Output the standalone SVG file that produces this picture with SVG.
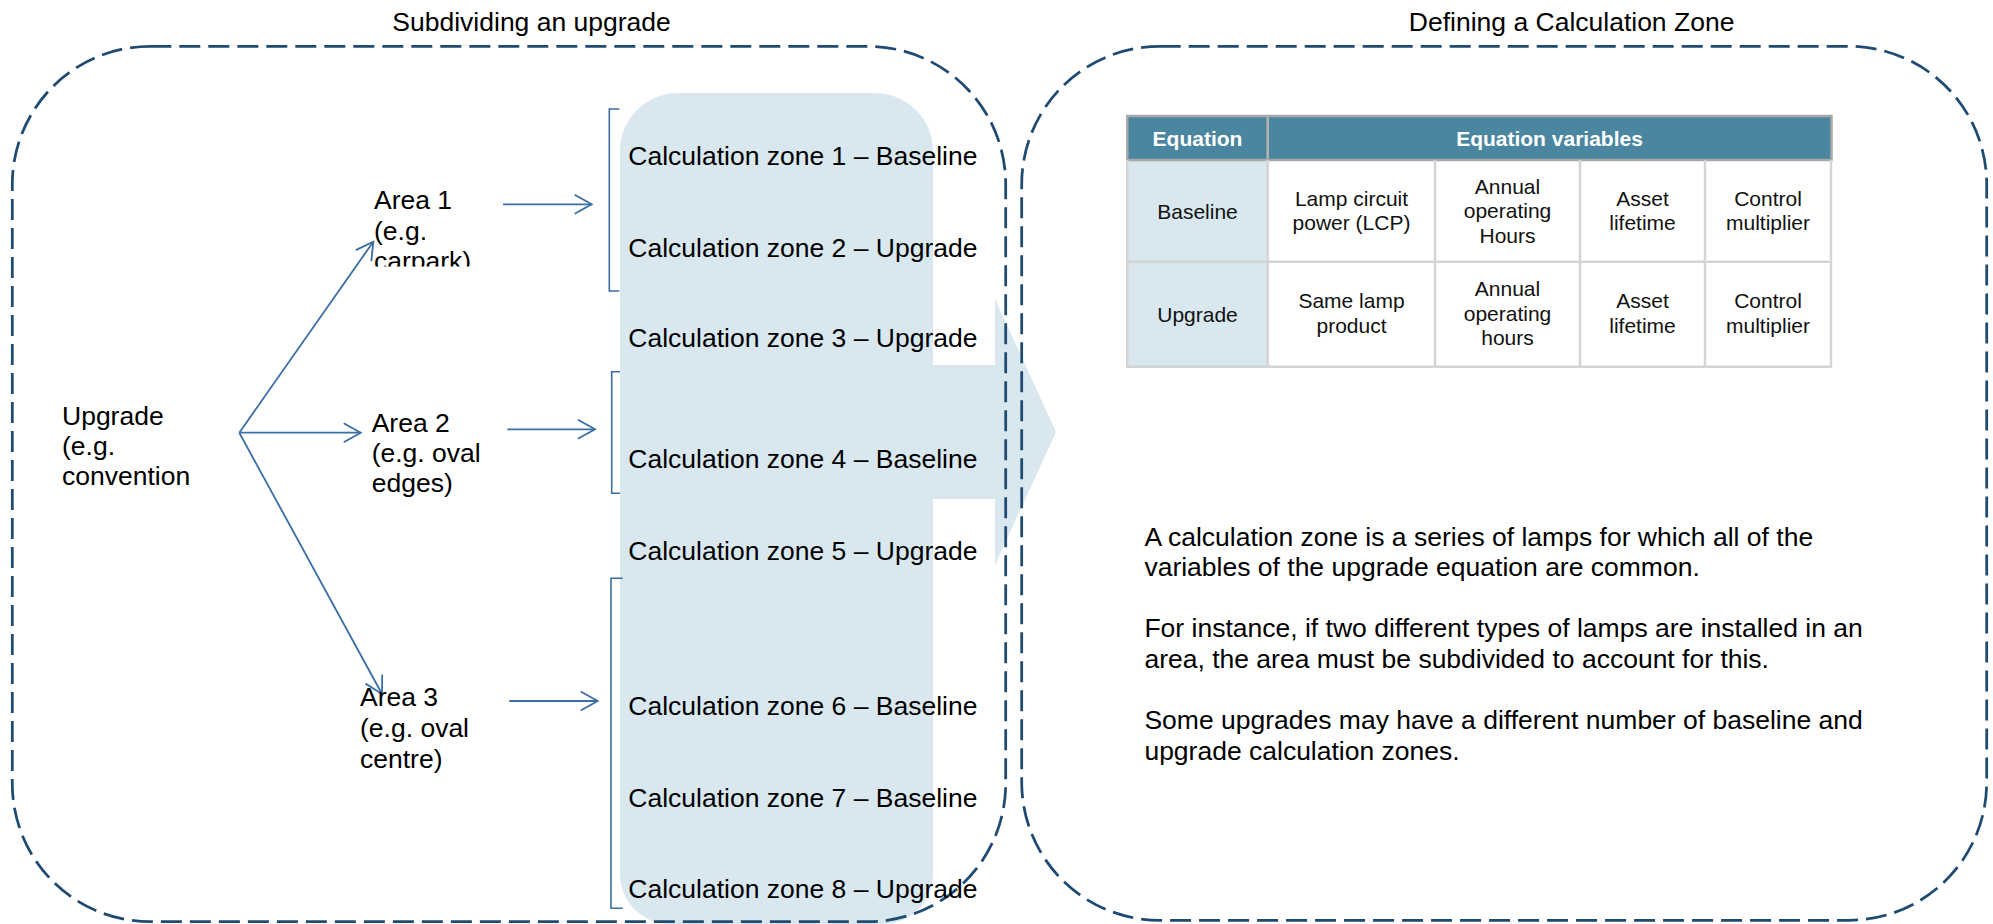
<svg xmlns="http://www.w3.org/2000/svg" width="1993" height="924" viewBox="0 0 1993 924">
  <style>
    .t { font-family: "Liberation Sans", Arial, sans-serif; font-size: 26.5px; fill: #000; }
    .tc { font-family: "Liberation Sans", Arial, sans-serif; font-size: 21px; fill: #111; text-anchor: middle; }
    .th { font-family: "Liberation Sans", Arial, sans-serif; font-size: 21px; font-weight: bold; fill: #fff; text-anchor: middle; }
    .dash { fill: none; stroke: #1F4A72; stroke-width: 2.75; stroke-dasharray: 21 8; }
    .conn { fill: none; stroke: #3A6EA5; stroke-width: 1.8; marker-end: url(#arr); }
    .brk { fill: none; stroke: #3A6EA5; stroke-width: 1.6; }
    .grid { stroke: #D4D4D4; stroke-width: 2.5; fill: none; }
  </style>
  <defs>
    <marker id="arr" markerUnits="userSpaceOnUse" markerWidth="24" markerHeight="24" viewBox="-20 -12 24 24" refX="0" refY="0" orient="auto">
      <path d="M-17,-9.5 L0,0 L-17,9.5" fill="none" stroke="#3A6EA5" stroke-width="1.8"/>
    </marker>
    <clipPath id="clipArea1">
      <rect x="355" y="170" width="200" height="96.5"/>
    </clipPath>
  </defs>
  <rect width="1993" height="924" fill="#fff"/>

  <!-- Big light-blue calculation zone column with arrow -->
  <g id="zone-column">
    <path d="M620,151 A58,58 0 0 1 678,93 H875 A58,58 0 0 1 933,151 V365 H995 V299 L1056,432 L995,565 V499 H933 V874 A50,50 0 0 1 883,924 H670 A50,50 0 0 1 620,874 Z" fill="#D9E7EF"/>
  </g>

  <!-- Titles -->
  <g id="titles">
    <text class="t" x="531.6" y="31" text-anchor="middle">Subdividing an upgrade</text>
    <text class="t" x="1571.6" y="31" text-anchor="middle">Defining a Calculation Zone</text>
  </g>

  <!-- Dashed containers -->
  <g id="left-panel">
    <rect class="dash" x="12.3" y="46.3" width="993.4" height="875.4" rx="138" ry="138"/>
  </g>
  <g id="right-panel">
    <rect class="dash" x="1021.7" y="46.3" width="965" height="874" rx="138" ry="138"/>
  </g>

  <!-- Brackets -->
  <g id="brackets">
    <path class="brk" d="M619.3,109 H609.3 V291 H619.3"/>
    <path class="brk" d="M620,371.7 H611.7 V493.3 H620"/>
    <path class="brk" d="M622.7,578.3 H611 V908.3 H622.7"/>
  </g>

  <!-- Connectors -->
  <g id="connectors">
    <line class="conn" x1="239.3" y1="432.7" x2="373.3" y2="241.7"/>
    <line class="conn" x1="239.3" y1="432.7" x2="360.7" y2="432.7"/>
    <line class="conn" x1="239.3" y1="432.7" x2="382" y2="694"/>
    <line class="conn" x1="503" y1="204.3" x2="591.7" y2="204.3"/>
    <line class="conn" x1="507.3" y1="429.3" x2="595" y2="429.3"/>
    <line class="conn" x1="509.3" y1="701" x2="597.7" y2="701"/>
  </g>

  <!-- Nodes -->
  <g id="upgrade">
    <text class="t" x="62" y="425">Upgrade</text>
    <text class="t" x="62" y="455">(e.g.</text>
    <text class="t" x="62" y="485">convention</text>
  </g>
  <g id="area1" clip-path="url(#clipArea1)">
    <text class="t" x="374" y="209">Area 1</text>
    <text class="t" x="374" y="239.5">(e.g.</text>
    <text class="t" x="374" y="270">carpark)</text>
  </g>
  <g id="area2">
    <text class="t" x="371.7" y="431.7">Area 2</text>
    <text class="t" x="371.7" y="461.7">(e.g. oval</text>
    <text class="t" x="371.7" y="491.7">edges)</text>
  </g>
  <g id="area3">
    <text class="t" x="360" y="706">Area 3</text>
    <text class="t" x="360" y="736.7">(e.g. oval</text>
    <text class="t" x="360" y="767.5">centre)</text>
  </g>

  <g id="zones">
    <text class="t" x="628.3" y="165">Calculation zone 1 – Baseline</text>
    <text class="t" x="628.3" y="256.7">Calculation zone 2 – Upgrade</text>
    <text class="t" x="628.3" y="346.7">Calculation zone 3 – Upgrade</text>
    <text class="t" x="628.3" y="468.3">Calculation zone 4 – Baseline</text>
    <text class="t" x="628.3" y="560">Calculation zone 5 – Upgrade</text>
    <text class="t" x="628.3" y="715">Calculation zone 6 – Baseline</text>
    <text class="t" x="628.3" y="806.7">Calculation zone 7 – Baseline</text>
    <text class="t" x="628.3" y="898.3">Calculation zone 8 – Upgrade</text>
  </g>

  <!-- Table -->
  <g id="equation-table">
    <rect x="1127.3" y="160" width="140.4" height="206.7" fill="#D9E7EF"/>
    <rect x="1127.3" y="116" width="704.2" height="44" fill="#4A86A0"/>
    <line x1="1267.7" y1="117" x2="1267.7" y2="160" stroke="#B4B4B4" stroke-width="2.5"/>
    <rect x="1127.3" y="116" width="704.2" height="44" fill="none" stroke="#A8A8A8" stroke-width="2.5"/>
    <path class="grid" d="M1127.3,160 V366.7 H1831 V160 M1127.3,261.7 H1831 M1267.7,160 V366.7 M1435,160 V366.7 M1580,160 V366.7 M1705,160 V366.7"/>
    <text class="th" x="1197.5" y="145.7">Equation</text>
    <text class="th" x="1549.5" y="145.7">Equation variables</text>

    <text class="tc" x="1197.5" y="219.3">Baseline</text>
    <text class="tc" x="1351.5" y="205.7">Lamp circuit</text>
    <text class="tc" x="1351.5" y="230.2">power (LCP)</text>
    <text class="tc" x="1507.5" y="193.7">Annual</text>
    <text class="tc" x="1507.5" y="218.2">operating</text>
    <text class="tc" x="1507.5" y="242.7">Hours</text>
    <text class="tc" x="1642.5" y="205.7">Asset</text>
    <text class="tc" x="1642.5" y="230.2">lifetime</text>
    <text class="tc" x="1768" y="205.7">Control</text>
    <text class="tc" x="1768" y="230.2">multiplier</text>

    <text class="tc" x="1197.5" y="321.7">Upgrade</text>
    <text class="tc" x="1351.5" y="308.3">Same lamp</text>
    <text class="tc" x="1351.5" y="332.8">product</text>
    <text class="tc" x="1507.5" y="296.2">Annual</text>
    <text class="tc" x="1507.5" y="320.7">operating</text>
    <text class="tc" x="1507.5" y="345.2">hours</text>
    <text class="tc" x="1642.5" y="308.3">Asset</text>
    <text class="tc" x="1642.5" y="332.8">lifetime</text>
    <text class="tc" x="1768" y="308.3">Control</text>
    <text class="tc" x="1768" y="332.8">multiplier</text>
  </g>

  <!-- Description -->
  <g id="description">
    <text class="t" x="1144.4" y="545.7">A calculation zone is a series of lamps for which all of the</text>
    <text class="t" x="1144.4" y="576">variables of the upgrade equation are common.</text>
    <text class="t" x="1144.4" y="637">For instance, if two different types of lamps are installed in an</text>
    <text class="t" x="1144.4" y="668">area, the area must be subdivided to account for this.</text>
    <text class="t" x="1144.4" y="729">Some upgrades may have a different number of baseline and</text>
    <text class="t" x="1144.4" y="759.5">upgrade calculation zones.</text>
  </g>
</svg>
